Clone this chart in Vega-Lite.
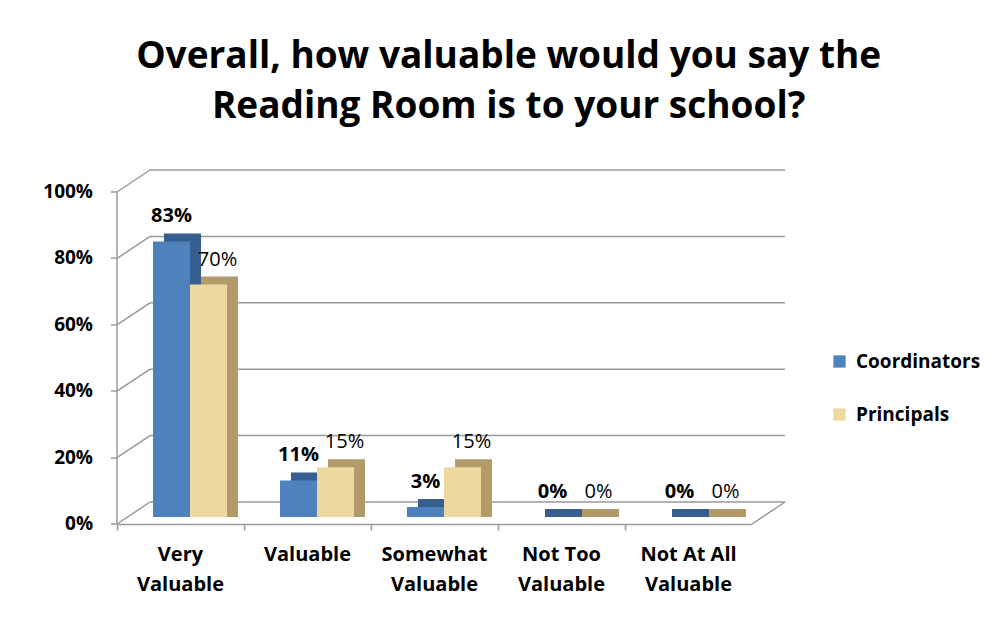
{
  "$schema": "https://vega.github.io/schema/vega-lite/v6.json",
  "width": 635,
  "height": 332,
  "autosize": {"type": "none"},
  "padding": {"left": 117, "top": 185, "right": 256, "bottom": 100},
  "background": "white",
  "config": {"view": {"stroke": null}, "font": "Open Sans"},
  "title": {
    "text": ["Overall, how valuable would you say the", "Reading Room is to your school?"],
    "font": "Open Sans",
    "fontSize": 37,
    "fontWeight": "bold",
    "color": "#000000",
    "lineHeight": 50,
    "anchor": "middle",
    "frame": "bounds",
    "offset": 43
  },
  "datasets": {
    "answers": [
      {"category": "Very Valuable", "series": "Coordinators", "value": 0.83},
      {"category": "Very Valuable", "series": "Principals", "value": 0.70},
      {"category": "Valuable", "series": "Coordinators", "value": 0.11},
      {"category": "Valuable", "series": "Principals", "value": 0.15},
      {"category": "Somewhat Valuable", "series": "Coordinators", "value": 0.03},
      {"category": "Somewhat Valuable", "series": "Principals", "value": 0.15},
      {"category": "Not Too Valuable", "series": "Coordinators", "value": 0},
      {"category": "Not Too Valuable", "series": "Principals", "value": 0},
      {"category": "Not At All Valuable", "series": "Coordinators", "value": 0},
      {"category": "Not At All Valuable", "series": "Principals", "value": 0}
    ],
    "grid": [{"v": 0}, {"v": 0.2}, {"v": 0.4}, {"v": 0.6}, {"v": 0.8}, {"v": 1}]
  },
  "layer": [
    {
      "data": {"name": "grid"},
      "mark": {"type": "rule", "color": "#9A9A9A", "strokeWidth": 1.5, "xOffset": 33, "x2Offset": 96.5, "yOffset": -15, "y2Offset": -15},
      "encoding": {
        "x": {"datum": "Very Valuable", "bandPosition": 0, "title": null},
        "x2": {"datum": "Not At All Valuable"},
        "y": {"field": "v", "type": "quantitative", "title": null, "scale": {"domain": [0, 1]}}
      }
    },
    {
      "data": {"name": "grid"},
      "mark": {"type": "rule", "color": "#9A9A9A", "strokeWidth": 1.5, "x2Offset": -30.5, "yOffset": 7, "y2Offset": -15},
      "encoding": {
        "x": {"datum": "Very Valuable", "bandPosition": 0, "title": null},
        "x2": {"datum": "Very Valuable"},
        "y": {"field": "v", "type": "quantitative", "title": null},
        "y2": {"field": "v"}
      }
    },
    {
      "data": {"name": "grid"},
      "transform": [{"filter": "datum.v == 0"}],
      "mark": {"type": "rule", "color": "#9A9A9A", "strokeWidth": 1.5, "xOffset": 63.5, "x2Offset": 96.5, "yOffset": 7, "y2Offset": -15},
      "encoding": {
        "x": {"datum": "Not At All Valuable", "title": null},
        "x2": {"datum": "Not At All Valuable"},
        "y": {"field": "v", "type": "quantitative", "title": null},
        "y2": {"field": "v"}
      }
    },
    {
      "data": {"name": "answers"},
      "transform": [{"filter": "datum.series == 'Coordinators'"}],
      "mark": {"type": "bar", "color": "#365E8F", "width": 37, "xOffset": 2, "yOffset": -8, "y2Offset": 0.01},
      "encoding": {
        "x": {"field": "category", "type": "nominal", "title": null},
        "y": {"field": "value", "type": "quantitative", "title": null},
        "y2": {"datum": 0}
      }
    },
    {
      "data": {"name": "answers"},
      "transform": [{"filter": "datum.series == 'Principals'"}],
      "mark": {"type": "bar", "color": "#B39B69", "width": 37, "xOffset": 39, "yOffset": -8, "y2Offset": 0.01},
      "encoding": {
        "x": {"field": "category", "type": "nominal", "title": null},
        "y": {"field": "value", "type": "quantitative", "title": null},
        "y2": {"datum": 0}
      }
    },
    {
      "data": {"name": "answers"},
      "transform": [{"filter": "datum.series == 'Coordinators'"}],
      "mark": {"type": "bar", "width": 37, "xOffset": -9},
      "encoding": {
        "x": {
          "field": "category",
          "type": "nominal",
          "scale": {
            "domain": ["Very Valuable", "Valuable", "Somewhat Valuable", "Not Too Valuable", "Not At All Valuable"],
            "paddingInner": 0,
            "paddingOuter": 0
          },
          "axis": {
            "title": null,
            "bandPosition": 0,
            "offset": 7,
            "domainColor": "#9A9A9A",
            "domainWidth": 1.5,
            "tickColor": "#9A9A9A",
            "tickWidth": 1.5,
            "tickSize": 6,
            "labelAngle": 0,
            "labelAlign": "center",
            "labelOffset": 0,
            "labelFont": "Open Sans",
            "labelFontSize": 20,
            "labelFontWeight": "bold",
            "labelColor": "#000000",
            "labelPadding": 24,
            "labelLineHeight": 30,
            "labelExpr": "datum.value == 'Very Valuable' ? ['Very', 'Valuable'] : datum.value == 'Somewhat Valuable' ? ['Somewhat', 'Valuable'] : datum.value == 'Not Too Valuable' ? ['Not Too', 'Valuable'] : datum.value == 'Not At All Valuable' ? ['Not At All', 'Valuable'] : datum.label"
          }
        },
        "y": {
          "field": "value",
          "type": "quantitative",
          "scale": {"domain": [0, 1]},
          "axis": {
            "title": null,
            "values": [0, 0.2, 0.4, 0.6, 0.8, 1],
            "format": ".0%",
            "grid": false,
            "translate": 7,
            "offset": 7,
            "domainColor": "#9A9A9A",
            "domainWidth": 1.5,
            "tickColor": "#9A9A9A",
            "tickWidth": 1.5,
            "tickSize": 6,
            "labelFont": "Open Sans",
            "labelFontSize": 19,
            "labelFontWeight": "bold",
            "labelColor": "#000000",
            "labelPadding": 18
          }
        },
        "color": {
          "field": "series",
          "type": "nominal",
          "scale": {"domain": ["Coordinators", "Principals"], "range": ["#4F81BD", "#EDD8A0"]},
          "legend": {
            "title": null,
            "orient": "none",
            "legendX": 713,
            "legendY": 167,
            "symbolType": "square",
            "symbolSize": 150,
            "symbolStrokeWidth": 0,
            "labelFont": "Open Sans",
            "labelFontSize": 19,
            "labelFontWeight": "bold",
            "labelColor": "#000000",
            "labelOffset": 7,
            "rowPadding": 33
          }
        }
      }
    },
    {
      "data": {"name": "answers"},
      "transform": [{"filter": "datum.series == 'Principals'"}],
      "mark": {"type": "bar", "width": 37, "xOffset": 28},
      "encoding": {
        "x": {"field": "category", "type": "nominal", "title": null},
        "y": {"field": "value", "type": "quantitative", "title": null},
        "color": {"field": "series", "type": "nominal"}
      }
    },
    {
      "data": {"name": "answers"},
      "transform": [{"filter": "datum.series == 'Coordinators'"}],
      "mark": {"type": "text", "xOffset": -9, "dy": -25, "baseline": "middle", "font": "Open Sans", "fontSize": 20, "fontWeight": "bold", "color": "#000000"},
      "encoding": {
        "x": {"field": "category", "type": "nominal", "title": null},
        "y": {"field": "value", "type": "quantitative", "title": null},
        "text": {"field": "value", "type": "quantitative", "format": ".0%"}
      }
    },
    {
      "data": {"name": "answers"},
      "transform": [{"filter": "datum.series == 'Principals'"}],
      "mark": {"type": "text", "xOffset": 37, "dy": -25, "baseline": "middle", "font": "Open Sans", "fontSize": 20, "fontWeight": "normal", "color": "#000000"},
      "encoding": {
        "x": {"field": "category", "type": "nominal", "title": null},
        "y": {"field": "value", "type": "quantitative", "title": null},
        "text": {"field": "value", "type": "quantitative", "format": ".0%"}
      }
    }
  ]
}
